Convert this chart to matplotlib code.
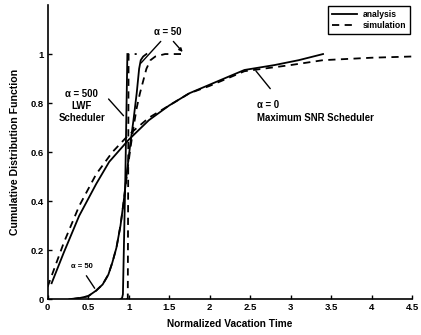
import matplotlib
matplotlib.use("Agg")
import matplotlib.pyplot as plt

plt.rcParams['font.family'] = ['Liberation Sans', 'DejaVu Sans']
plt.rcParams['font.weight'] = 'bold'

# alpha = 0 (Maximum SNR scheduler)
a0_ana_x = [0.05, 0.2, 0.39, 0.6, 0.76, 1.0, 1.25, 1.5, 1.75, 2.0, 2.25, 2.43, 2.8, 3.1, 3.4]
a0_ana_y = [0.065, 0.19, 0.34, 0.47, 0.56, 0.65, 0.73, 0.79, 0.84, 0.875, 0.91, 0.935, 0.955, 0.975, 1.0]
a0_sim_x = [0.0, 0.1, 0.2, 0.39, 0.6, 0.8, 1.0, 1.25, 1.5, 1.75, 2.0, 2.43, 3.0, 3.4, 4.0, 4.5]
a0_sim_y = [0.05, 0.14, 0.23, 0.38, 0.51, 0.6, 0.67, 0.74, 0.79, 0.84, 0.87, 0.93, 0.955, 0.975, 0.985, 0.99]

# alpha = 50
a50_ana_x = [0.27, 0.4, 0.5, 0.6, 0.68, 0.75, 0.8, 0.85, 0.9, 0.94, 0.98, 1.02, 1.06, 1.1, 1.13, 1.15, 1.18, 1.22]
a50_ana_y = [0.0, 0.005, 0.012, 0.035, 0.06, 0.1, 0.15, 0.21, 0.3, 0.4, 0.52, 0.63, 0.73, 0.84, 0.94, 0.975, 0.99, 1.0]
a50_sim_x = [0.3, 0.4, 0.5, 0.6, 0.68, 0.75, 0.8, 0.85, 0.9, 0.94, 0.98, 1.02, 1.06, 1.1, 1.14, 1.18, 1.22, 1.27, 1.33, 1.45, 1.65]
a50_sim_y = [0.0, 0.005, 0.012, 0.035, 0.06, 0.1, 0.15, 0.21, 0.3, 0.4, 0.51, 0.61, 0.7, 0.78, 0.84, 0.89, 0.94, 0.975, 0.99, 1.0, 1.0]

# alpha = 500 (LWF scheduler)
a500_ana_x = [0.9, 0.92, 0.93, 0.96, 0.985]
a500_ana_y = [0.0, 0.005, 0.02, 0.5, 1.0]
a500_sim_x = [0.97, 0.99, 0.995, 1.0, 1.1]
a500_sim_y = [0.0, 0.0, 0.5, 1.0, 1.0]

x_ticks = [0, 0.5, 1, 1.5, 2, 2.5, 3, 3.5, 4, 4.5]
x_labels = ['0', '0.5', '1', '1.5', '2', '2.5', '3', '3.5', '4', '4.5']
y_ticks = [0, 0.2, 0.4, 0.6, 0.8, 1.0]
y_labels = ['0', '0.2', '0.4', '0.6', '0.8', '1']

fig = plt.figure(figsize=(4.21, 3.35), dpi=100)
ax = fig.add_axes([0.113, 0.107, 0.866, 0.878])

lw = 1.3
dash = (0, (4, 3))
ax.plot(a0_ana_x, a0_ana_y, color='black', lw=lw, label='analysis')
ax.plot(a0_sim_x, a0_sim_y, color='black', lw=lw, linestyle=dash, label='simulation')
ax.plot(a50_ana_x, a50_ana_y, color='black', lw=lw)
ax.plot(a50_sim_x, a50_sim_y, color='black', lw=lw, linestyle=dash)
ax.plot(a500_ana_x, a500_ana_y, color='black', lw=lw)
ax.plot(a500_sim_x, a500_sim_y, color='black', lw=lw, linestyle=dash)

ax.set_xlim(0, 4.5)
ax.set_ylim(0, 1.2)
ax.set_xticks(x_ticks)
ax.set_xticklabels(x_labels)
ax.set_yticks(y_ticks)
ax.set_yticklabels(y_labels)
ax.spines['top'].set_visible(False)
ax.spines['right'].set_visible(False)
ax.spines['left'].set_linewidth(1.2)
ax.spines['bottom'].set_linewidth(1.2)
ax.tick_params(direction='in', length=3, width=1, labelsize=6.8, pad=3)
for t in ax.get_xticklabels() + ax.get_yticklabels():
    t.set_fontweight('bold')

ax.set_xlabel('Normalized Vacation Time', fontsize=7.3, fontweight='bold', labelpad=5)
ax.set_ylabel('Cumulative Distribution Function', fontsize=7.6, fontweight='bold', labelpad=7)

fs = 6.9
arrowprops = dict(arrowstyle='-', color='black', lw=1.0)
# alpha = 50 top
ax.text(1.48, 1.09, 'α = 50', fontsize=fs, fontweight='bold', ha='center', va='center')
ax.annotate('', xy=(1.13, 0.955), xytext=(1.42, 1.06), arrowprops=arrowprops)
ax.annotate('', xy=(1.69, 1.0), xytext=(1.53, 1.06),
            arrowprops=dict(arrowstyle='-|>', color='black', lw=1.0, mutation_scale=5))
# alpha = 500
ax.text(0.42, 0.79, 'α = 500\nLWF\nScheduler', fontsize=fs, fontweight='bold',
        ha='center', va='center', linespacing=1.25)
ax.annotate('', xy=(0.96, 0.74), xytext=(0.73, 0.825), arrowprops=arrowprops)
# alpha = 0
ax.text(2.59, 0.765, 'α = 0\nMaximum SNR Scheduler', fontsize=fs, fontweight='bold',
        ha='left', va='center', linespacing=1.35)
ax.annotate('', xy=(2.55, 0.94), xytext=(2.77, 0.85), arrowprops=arrowprops)
# alpha = 50 bottom
ax.text(0.42, 0.135, 'α = 50', fontsize=5.5, fontweight='bold', ha='center', va='center')
ax.annotate('', xy=(0.6, 0.035), xytext=(0.46, 0.105), arrowprops=arrowprops)

leg = ax.legend(loc='upper right', bbox_to_anchor=(1.0, 1.005), fontsize=6.2,
                handlelength=3, fancybox=False, edgecolor='black', framealpha=1,
                borderpad=0.4, labelspacing=0.3, handletextpad=0.6, borderaxespad=0.3)
leg.get_frame().set_linewidth(1.0)
for t in leg.get_texts():
    t.set_fontweight('bold')

fig.savefig('out.png', dpi=100)
